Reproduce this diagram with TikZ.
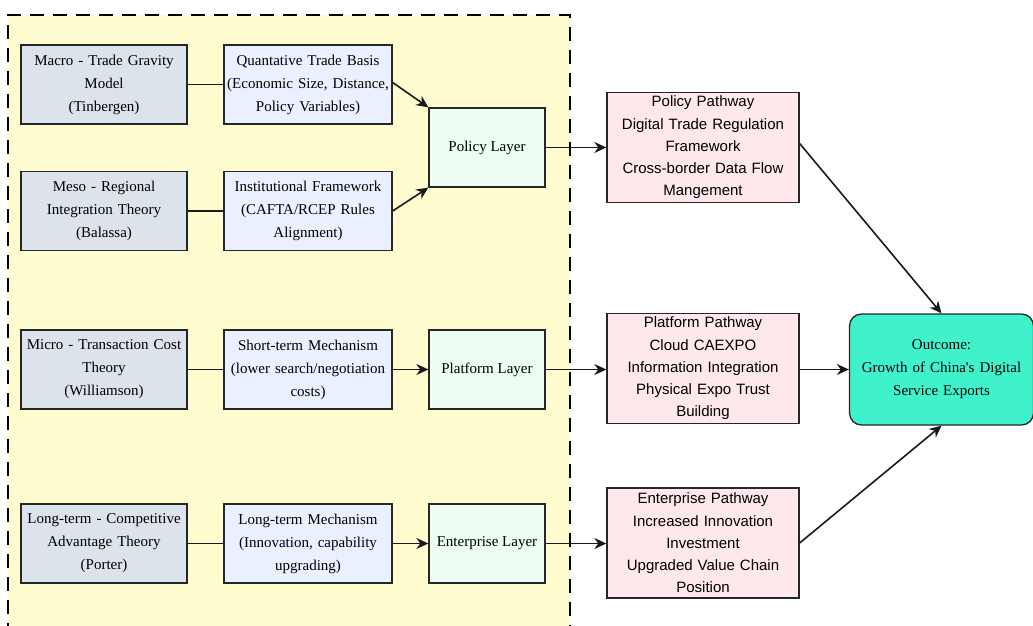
\documentclass[tikz,border=0pt]{standalone}
\usepackage{fontspec}
\setmainfont{Liberation Serif}[Ligatures=TeXOff]
\newfontfamily\arialfont{Liberation Sans}
\usetikzlibrary{arrows.meta}
\definecolor{yellowbg}{HTML}{FFFDD0}
\definecolor{theoryfill}{HTML}{DDE3EA}
\definecolor{mechfill}{HTML}{EAF0FF}
\definecolor{layerfill}{HTML}{EDFDF3}
\definecolor{pathfill}{HTML}{FFE8EC}
\definecolor{outfill}{HTML}{40F2CB}
\tikzset{
  box/.style={draw=black!85, line width=1.3pt, align=center, inner sep=1pt,
    font=\fontsize{15}{23}\selectfont},
  theory/.style={box, fill=theoryfill, minimum width=166pt, minimum height=79pt, text width=164pt},
  mech/.style={box, fill=mechfill, minimum width=164pt, minimum height=79pt, text width=166pt},
  layer/.style={box, fill=layerfill, minimum width=116pt, minimum height=79pt},
  pathbox/.style={box, fill=pathfill, minimum width=192pt, minimum height=110pt, text width=188pt,
    font=\arialfont\fontsize{15}{22.3}\selectfont},
  outbox/.style={box, fill=outfill, rounded corners=12pt, minimum width=183pt, minimum height=111pt, text width=182pt,
    font=\fontsize{15}{23}\selectfont},
  conn/.style={line width=1.6pt, black!90},
  arr/.style={conn, -{Stealth[length=12pt,width=11pt]}},
}
\begin{document}
\begin{tikzpicture}[x=1pt,y=-1pt]
\useasboundingbox (0,0) rectangle (1033,626);
\begin{scope}
\clip (0,0) rectangle (1033,626);
\fill[yellowbg] (8,15) rectangle (570,660);
\draw[line width=1.3pt, dash pattern=on 14pt off 9pt] (8,660) -- (8,15) -- (570,15) -- (570,660);
\end{scope}

\node[theory] (macro) at (104,84.5) {Macro - Trade Gravity\\Model\\(Tinbergen)};
\node[mech] (quant) at (308,84.5) {Quantative Trade Basis\\(Economic Size, Distance,\\Policy Variables)};
\node[theory] (meso) at (104,211) {Meso - Regional\\Integration Theory\\(Balassa)};
\node[mech] (inst) at (308,211) {Institutional Framework\\(CAFTA/RCEP Rules\\Alignment)};
\node[layer] (policy) at (487,147.5) {Policy Layer};

\node[theory] (micro) at (104,369.5) {Micro - Transaction Cost\\Theory\\(Williamson)};
\node[mech] (short) at (308,369.5) {Short-term Mechanism\\(lower search/negotiation\\costs)};
\node[layer] (platform) at (487,369.5) {Platform Layer};

\node[theory] (long) at (104,543.5) {Long-term - Competitive\\Advantage Theory\\(Porter)};
\node[mech] (ltm) at (308,543.5) {Long-term Mechanism\\(Innovation, capability\\upgrading)};
\node[layer] (enterprise) at (487,543.5) {Enterprise Layer};

\node[pathbox] (ppath) at (703,147.5) {Policy Pathway\\Digital Trade Regulation\\Framework\\Cross-border Data Flow\\Mangement};
\node[pathbox] (plpath) at (703,368.5) {Platform Pathway\\Cloud CAEXPO\\Information Integration\\Physical Expo Trust\\Building};
\node[pathbox] (epath) at (703,543) {Enterprise Pathway\\Increased Innovation\\Investment\\Upgraded Value Chain\\Position};

\node[outbox] (outcome) at (941.5,369.5) {Outcome:\\Growth of China's Digital\\Service Exports};

\draw[conn] (macro) -- (quant);
\draw[conn] (meso) -- (inst);
\draw[conn] (micro) -- (short);
\draw[conn] (long) -- (ltm);

\draw[arr] (quant.east) ++(0,-2) -- (policy.north west);
\draw[arr] (inst.east) -- (policy.south west);
\draw[arr] (short) -- (platform);
\draw[arr] (ltm) -- (enterprise);

\draw[arr] (policy) -- (ppath);
\draw[arr] (platform) -- (platform -| plpath.west);
\draw[arr] (enterprise) -- (enterprise -| epath.west);

\draw[arr] (plpath.east |- outcome.west) -- (outcome.west);
\draw[arr] (ppath.east) ++(0,-4) -- (outcome.north);
\draw[arr] (epath.east) -- (outcome.south);
\end{tikzpicture}
\end{document}
